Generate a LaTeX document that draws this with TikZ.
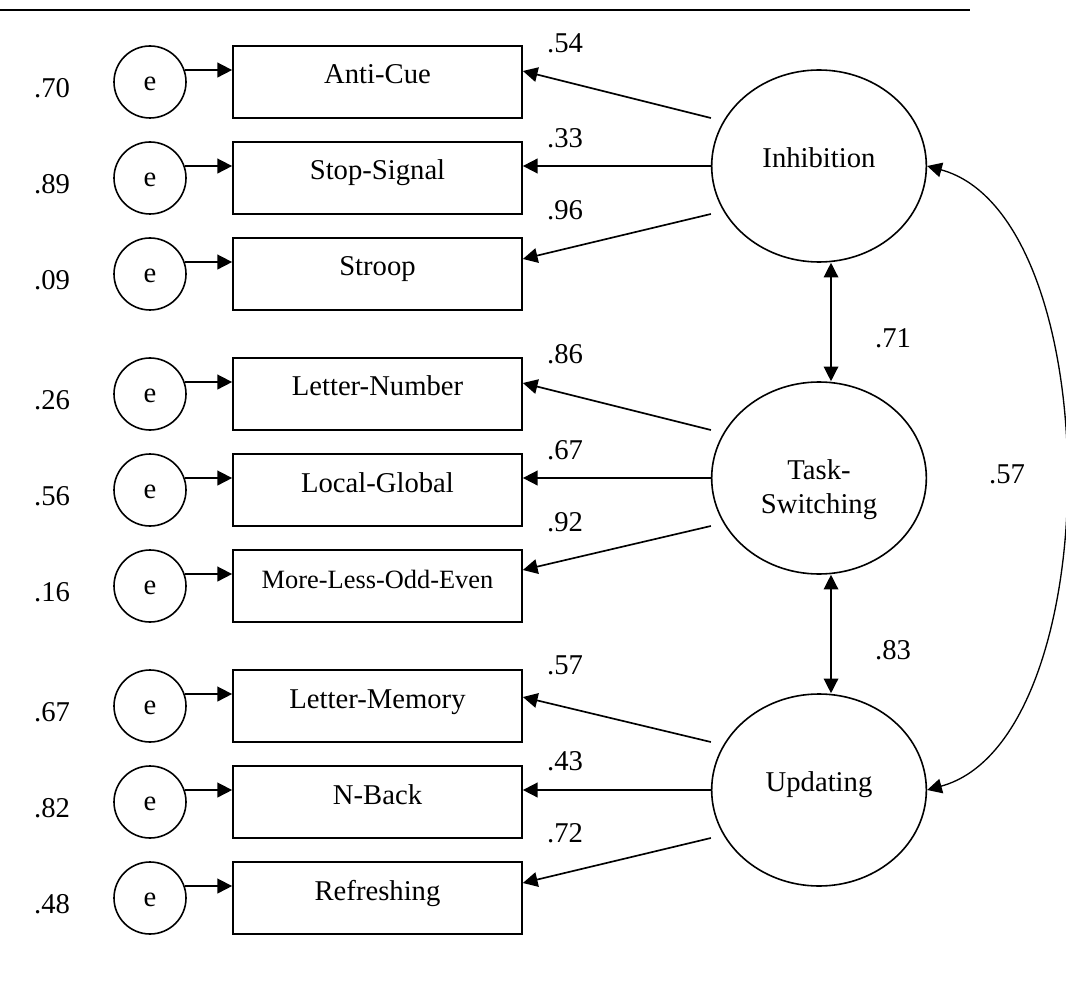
\documentclass[tikz,border=0pt]{standalone}
\usepackage{fontspec}
\setmainfont{Liberation Serif}
\usetikzlibrary{arrows.meta,shapes.geometric,calc}
\begin{document}
\begin{tikzpicture}[x=0.75pt,y=-0.75pt,
  every node/.style={font=\fontsize{21.5}{25.5}\selectfont},
  obs/.style={draw,line width=1.3pt,minimum width=216.75pt,minimum height=54pt,inner sep=0pt,text height=10pt,text depth=7pt},
  err/.style={draw,circle,line width=1.2pt,minimum size=54pt,inner sep=0pt,text height=12.7pt,text depth=0pt},
  lat/.style={draw,ellipse,line width=1.2pt,minimum width=161pt,minimum height=144pt,inner sep=0pt,text height=10pt,text depth=7.5pt},
  arr/.style={line width=1.25pt,-{Triangle[length=11pt,width=11pt]}},
  dbl/.style={line width=1pt,{Triangle[length=11pt,width=11pt]}-{Triangle[length=11pt,width=11pt]}},
  num/.style={inner sep=0pt}
]
\useasboundingbox (0,0) rectangle (1066,994);
\draw[line width=1.5pt] (0,10) coordinate (rA) -- (970,10) coordinate (rB);

% observed boxes
\node[obs] (b1) at (377.5,82) {Anti-Cue};
\node[obs] (b2) at (377.5,178) {Stop-Signal};
\node[obs] (b3) at (377.5,274) {Stroop};
\node[obs] (b4) at (377.5,394) {Letter-Number};
\node[obs] (b5) at (377.5,490) {Local-Global};
\node[obs,font=\fontsize{19.8}{24}\selectfont] (b6) at (377.5,586) {More-Less-Odd-Even};
\node[obs] (b7) at (377.5,706) {Letter-Memory};
\node[obs] (b8) at (377.5,802) {N-Back};
\node[obs] (b9) at (377.5,898) {Refreshing};

% error circles and values
\foreach \i/\y/\v in {1/82/.70,2/178/.89,3/274/.09,4/394/.26,5/490/.56,6/586/.16,7/706/.67,8/802/.82,9/898/.48}{
  \node[err] (e\i) at (150,\y) {e};
  \node[num] (v\i) at (52,\y+6) {\v};
  \draw[arr] (e\i.19.47) -- (e\i.19.47 -| b\i.west);
}

% latent variables
\node[lat] (inh) at (819,166) {Inhibition};
\node[lat] (task) at (819,478) {\begin{tabular}[t]{@{}c@{}}Task-\\Switching\end{tabular}};
\node[lat] (upd) at (819,790) {Updating};

% loadings
\draw[arr] ($(inh.west)+(0,-48)$) -- ($(b1.east)+(0,-11)$);
\draw[arr] (inh.west) -- (inh.west -| b2.east);
\draw[arr] ($(inh.west)+(0,48)$) -- ($(b3.east)+(0,-15)$);
\draw[arr] ($(task.west)+(0,-48)$) -- ($(b4.east)+(0,-11)$);
\draw[arr] (task.west) -- (task.west -| b5.east);
\draw[arr] ($(task.west)+(0,48)$) -- ($(b6.east)+(0,-16)$);
\draw[arr] ($(upd.west)+(0,-48)$) -- ($(b7.east)+(0,-9)$);
\draw[arr] (upd.west) -- (upd.west -| b8.east);
\draw[arr] ($(upd.west)+(0,48)$) -- ($(b9.east)+(0,-15)$);

\node[num] (l1) at (565,43) {.54};
\node[num] (l2) at (565,138) {.33};
\node[num] (l3) at (565,210) {.96};
\node[num] (l4) at (565,354) {.86};
\node[num] (l5) at (565,450) {.67};
\node[num] (l6) at (565,522) {.92};
\node[num] (l7) at (565,665) {.57};
\node[num] (l8) at (565,761) {.43};
\node[num] (l9) at (565,833) {.72};

% correlations
\draw[dbl] ([xshift=9pt]inh.south) -- ([xshift=9pt]task.north);
\draw[dbl] ([xshift=9pt]task.south) -- ([xshift=9pt]upd.north);
\draw[dbl] (inh.east) .. controls (1110,216) and (1110,740) .. (upd.east);
\node[num] (c1) at (893,338) {.71};
\node[num] (c2) at (893,650) {.83};
\node[num] (c3) at (1007,474) {.57};
\end{tikzpicture}
\end{document}
